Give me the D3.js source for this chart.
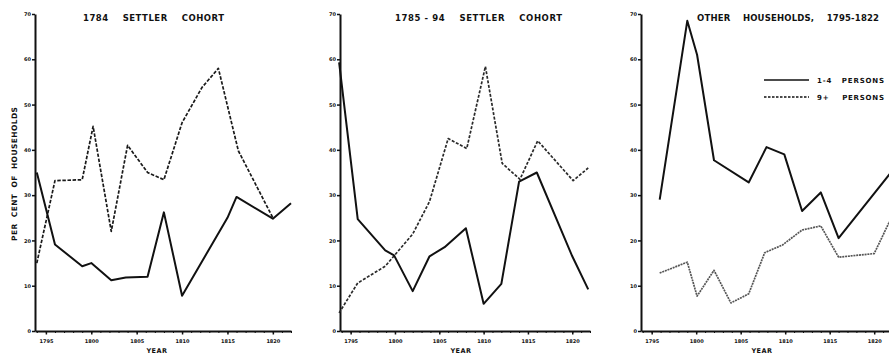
<!DOCTYPE html>
<html>
<head>
<meta charset="utf-8">
<script src="https://cdn.jsdelivr.net/npm/d3@7"></script>
<style>
  body { margin: 0; background: #fff; }
  text { font-family: "DejaVu Sans", sans-serif; font-weight: bold; fill: #111; }
  .pre { white-space: pre; }
</style>
</head>
<body>
<div id="chart"></div>
<script>
// Data (per cent of households)
const panelTitles = ["1784    SETTLER    COHORT", "1785 - 94    SETTLER    COHORT", "OTHER    HOUSEHOLDS,    1795-1822"];
const legendLabels = ["1-4   PERSONS", "9+    PERSONS"];
const yTicks = [0, 10, 20, 30, 40, 50, 60, 70];
const xTicks = [1795, 1800, 1805, 1810, 1815, 1820];
const xTickLabels = ["1795", "1800", "1805", "1810", "1815", "1820"];

// 1784 settler cohort
const p1Years4 = [1794, 1796, 1799, 1800, 1802.2, 1803.8, 1806.2, 1808, 1810, 1815, 1816, 1820, 1822];
const p1Small = [35, 19.1, 14.3, 15, 11.2, 11.8, 12, 26.2, 7.8, 25, 29.6, 24.8, 28.2];
const p1Years9 = [1794, 1796, 1799, 1800.2, 1802.2, 1804, 1806.2, 1808, 1810, 1812.2, 1814, 1816.2, 1820];
const p1Large = [15, 33.2, 33.4, 45.2, 22, 41, 35, 33.4, 46, 53.8, 58, 39.8, 25];

// 1785-94 settler cohort
const p2Years4 = [1793.7, 1795.8, 1798.9, 1799.9, 1802, 1803.9, 1805.6, 1808, 1810, 1812, 1814, 1816, 1820, 1821.8];
const p2Small = [59.3, 24.7, 17.8, 16.7, 8.8, 16.5, 18.5, 22.7, 6, 10.4, 33, 35, 16.5, 9.2];
const p2Years9 = [1793.7, 1795.8, 1798.9, 1802, 1803.9, 1806, 1808.1, 1810.2, 1812.1, 1814.1, 1816.1, 1820.1, 1821.8];
const p2Large = [4, 10.6, 14.3, 21.4, 28.6, 42.5, 40.3, 58.4, 37, 33.5, 42, 33.2, 36];

// other households
const p3Years4 = [1795.9, 1799, 1800.1, 1802, 1805.9, 1807.9, 1809.9, 1811.9, 1814, 1816, 1822];
const p3Small = [29, 68.5, 61, 37.7, 32.8, 40.6, 39, 26.5, 30.6, 20.5, 35.3];
const p3Years9 = [1795.9, 1799, 1800.1, 1802, 1803.9, 1805.9, 1807.7, 1809.7, 1811.9, 1814, 1816, 1820, 1822];
const p3Large = [12.8, 15.2, 7.7, 13.4, 6.2, 8.2, 17.3, 19, 22.3, 23.2, 16.3, 17.1, 25.3];

const width = 889, height = 356;
const marginTop = 14, marginBottom = 25;

const panels = [
  {title: panelTitles[0], titleX: [83, 224], left: 35, right: 291, yearLabelX: 157,
   small: p1Years4.map((yr, i) => [yr, p1Small[i]]), large: p1Years9.map((yr, i) => [yr, p1Large[i]]),
   dash: "3.5,1.6", dashColor: "#1a1a1a"},
  {title: panelTitles[1], titleX: [395, 562], left: 340, right: 590, yearLabelX: 461,
   small: p2Years4.map((yr, i) => [yr, p2Small[i]]), large: p2Years9.map((yr, i) => [yr, p2Large[i]]),
   dash: "3,1.6", dashColor: "#2a2a2a"},
  {title: panelTitles[2], titleX: [697, 879], left: 641, right: 892, yearLabelX: 762,
   small: p3Years4.map((yr, i) => [yr, p3Small[i]]), large: p3Years9.map((yr, i) => [yr, p3Large[i]]),
   dash: "2,0.8", dashColor: "#555", legend: true}
];

const svg = d3.select("#chart").append("svg")
  .attr("width", width)
  .attr("height", height)
  .attr("viewBox", [0, 0, width, height]);

// Shared vertical scale
const y = d3.scaleLinear().domain([0, 70]).range([height - marginBottom, marginTop]);

// Y axis title (only once, left of first panel)
svg.append("text")
  .attr("class", "pre")
  .attr("transform", `translate(17,174) rotate(-90)`)
  .attr("text-anchor", "middle")
  .attr("font-size", 7.5)
  .attr("textLength", 134)
  .attr("lengthAdjust", "spacing")
  .text("PER  CENT  OF  HOUSEHOLDS");

for (const p of panels) {
  const x = d3.scaleLinear().domain([1793.8, 1822]).range([p.left, p.right]);
  const g = svg.append("g");

  // Vertical axis
  g.append("g")
    .attr("transform", `translate(${p.left},0)`)
    .call(d3.axisLeft(y).tickValues(yTicks).tickSize(3).tickPadding(1).tickSizeOuter(0))
    .call(g => g.select(".domain").attr("stroke", "#111").attr("stroke-width", 2))
    .call(g => g.selectAll(".tick line").attr("stroke", "#111").attr("stroke-width", 1.5))
    .call(g => g.selectAll(".tick text").attr("font-size", 5).attr("font-family", "DejaVu Sans").attr("font-weight", "bold"));

  // Minor yearly ticks on the horizontal axis
  g.append("g")
    .attr("transform", `translate(0,${height - marginBottom})`)
    .call(d3.axisBottom(x).tickValues(d3.range(1794, 1823)).tickSize(2).tickFormat("").tickSizeOuter(0))
    .call(g => g.select(".domain").attr("stroke", "#111").attr("stroke-width", 2))
    .call(g => g.selectAll(".tick line").attr("stroke", "#111").attr("stroke-width", 1));

  // Major ticks with labels
  g.append("g")
    .attr("transform", `translate(0,${height - marginBottom})`)
    .call(d3.axisBottom(x).tickValues(xTicks).tickSize(3.5).tickPadding(5)
      .tickFormat((d, i) => xTickLabels[i]).tickSizeOuter(0))
    .call(g => g.select(".domain").remove())
    .call(g => g.selectAll(".tick line").attr("stroke", "#111").attr("stroke-width", 1.5))
    .call(g => g.selectAll(".tick text").attr("font-size", 5).attr("font-family", "DejaVu Sans").attr("font-weight", "bold"));

  g.append("text")
    .attr("x", p.yearLabelX)
    .attr("y", 353)
    .attr("text-anchor", "middle")
    .attr("font-size", 6.5)
    .attr("letter-spacing", 0.5)
    .text("YEAR");

  // Panel title
  g.append("text")
    .attr("class", "pre")
    .attr("x", p.titleX[0])
    .attr("y", 21)
    .attr("font-size", 8.5)
    .attr("textLength", p.titleX[1] - p.titleX[0])
    .attr("lengthAdjust", "spacing")
    .text(p.title);

  const line = d3.line().x(d => x(d[0])).y(d => y(d[1]));

  g.append("path")
    .datum(p.large)
    .attr("fill", "none")
    .attr("stroke", p.dashColor)
    .attr("stroke-width", 1.7)
    .attr("stroke-dasharray", p.dash)
    .attr("stroke-linejoin", "round")
    .attr("d", line);

  g.append("path")
    .datum(p.small)
    .attr("fill", "none")
    .attr("stroke", "#111")
    .attr("stroke-width", 2)
    .attr("stroke-linejoin", "round")
    .attr("d", line);

  if (p.legend) {
    const lg = g.append("g");
    [0, 1].forEach(i => {
      lg.append("line")
        .attr("x1", 764).attr("x2", 809)
        .attr("y1", 80 + i * 17).attr("y2", 80 + i * 17)
        .attr("stroke", "#111")
        .attr("stroke-width", i ? 1.4 : 1.6)
        .attr("stroke-dasharray", i ? "2.5,1.5" : null);
      lg.append("text")
        .attr("class", "pre")
        .attr("x", 817)
        .attr("y", 82.5 + i * 17)
        .attr("font-size", 7)
        .attr("textLength", 67)
        .attr("lengthAdjust", "spacing")
        .text(legendLabels[i]);
    });
  }
}
</script>
</body>
</html>
